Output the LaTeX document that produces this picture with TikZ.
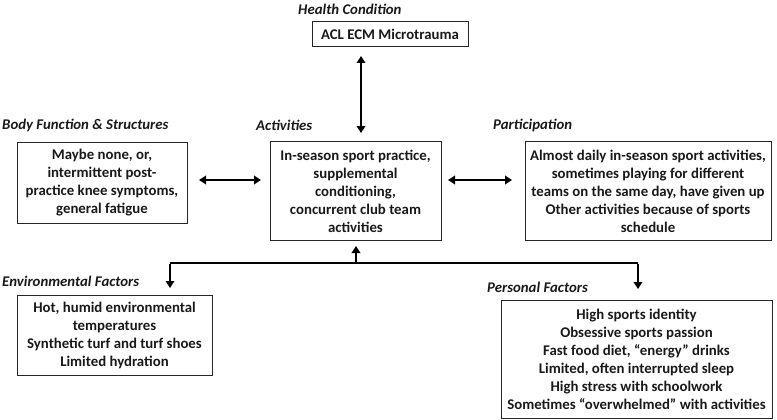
\documentclass[tikz,border=0pt]{standalone}
\usepackage{fontspec}
\setmainfont{Carlito}
\usetikzlibrary{arrows.meta}
\begin{document}
\begin{tikzpicture}[x=1pt,y=-1pt,
  box/.style={draw=black!85,line width=1pt,align=center,inner sep=0pt,
    font=\fontsize{14.8}{18}\selectfont\bfseries,text=black!90},
  ttl/.style={font=\fontsize{14.8}{18}\selectfont\bfseries\itshape,text=black!90,inner sep=0pt},
  dbl/.style={line width=2.5pt,{Triangle[length=7pt,width=8.5pt]}-{Triangle[length=7pt,width=8.5pt]}},
  sgl/.style={line width=2.5pt,-{Triangle[length=7pt,width=8.5pt]}}]
\useasboundingbox (0,0) rectangle (777,420);
\node[ttl,anchor=west] (thc) at (298,9) {Health Condition};
\node[box,minimum width=156pt,minimum height=25pt] (acl) at (390,34.5) {ACL ECM Microtrauma};
\node[ttl,anchor=west] (tbf) at (2,125) {Body Function \& Structures};
\node[ttl,anchor=west] (tact) at (256,125) {Activities};
\node[ttl,anchor=west] (tpar) at (493,125) {Participation};
\node[box,minimum width=170pt,minimum height=81pt] (bf) at (102,182.5)
  {Maybe none, or,\\intermittent post-\\practice knee symptoms,\\general fatigue};
\node[box,minimum width=171pt,minimum height=99pt] (act) at (355.5,191)
  {In-season sport practice,\\supplemental\\conditioning,\\concurrent club team\\activities};
\node[box,minimum width=246pt,minimum height=99pt] (par) at (648,191)
  {Almost daily in-season sport activities,\\sometimes playing for different\\teams on the same day, have given up\\Other activities because of sports\\schedule};
\node[ttl,anchor=west] (tenv) at (2,281) {Environmental Factors};
\node[ttl,anchor=west] (tper) at (487,287) {Personal Factors};
\node[box,minimum width=195pt,minimum height=80pt] (env) at (114.5,335)
  {Hot, humid environmental\\temperatures\\Synthetic turf and turf shoes\\Limited hydration};
\node[box,minimum width=271pt,minimum height=118pt] (per) at (636.5,359.5)
  {High sports identity\\Obsessive sports passion\\Fast food diet, “energy” drinks\\Limited, often interrupted sleep\\High stress with schoolwork\\Sometimes “overwhelmed” with activities};
\coordinate (hl) at (170,263);
\coordinate (hr) at (638,263);
\coordinate (hm) at (356,263);
\coordinate (envtop) at (170,288);
\coordinate (pertop) at (638,289);
\draw[dbl] (361,56) -- (361,133);
\draw[dbl] (199,180) -- (261,180);
\draw[dbl] (448,180) -- (512,180);
\draw[line width=2.5pt] (hl) -- (hr);
\draw[sgl] (hm) -- (356,246);
\draw[sgl] ([yshift=-1.25pt]hl) -- (envtop);
\draw[sgl] ([yshift=-1.25pt]hr) -- (pertop);
\end{tikzpicture}
\end{document}
